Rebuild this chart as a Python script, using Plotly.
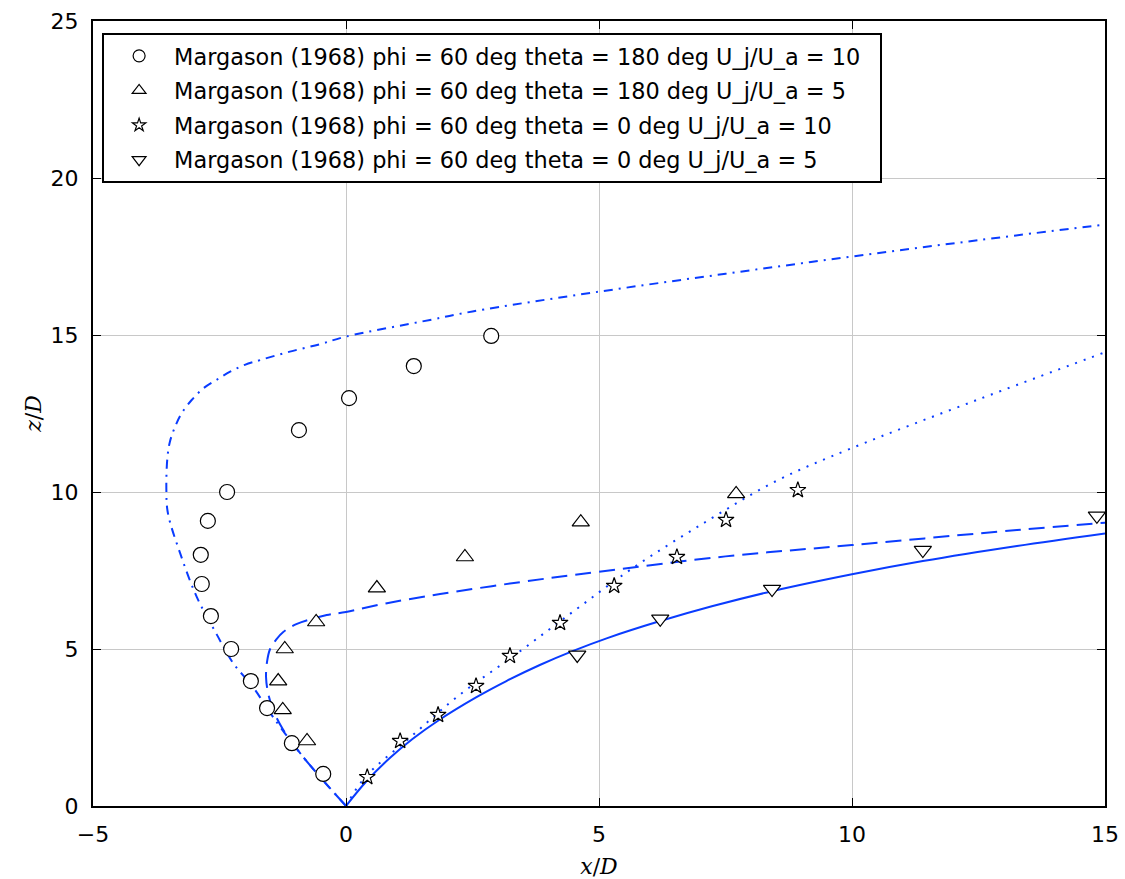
import plotly.graph_objects as go

# ---- data ----
circ_x = [-0.45, -1.07, -1.56, -1.88, -2.27, -2.67, -2.85, -2.87, -2.73, -2.35, -0.93, 0.06, 1.34, 2.87]
circ_z = [1.02, 2.0, 3.12, 3.98, 5.0, 6.05, 7.07, 8.0, 9.08, 10.0, 11.97, 12.99, 14.01, 14.97]

tri_x = [-0.77, -1.25, -1.34, -1.21, -0.59, 0.61, 2.35, 4.64, 7.71]
tri_z = [2.07, 3.06, 3.98, 5.0, 5.86, 6.94, 7.93, 9.04, 9.94]

star_x = [0.42, 1.07, 1.82, 2.57, 3.24, 4.23, 5.30, 6.54, 7.51, 8.93]
star_z = [0.92, 2.07, 2.90, 3.82, 4.78, 5.83, 7.01, 7.93, 9.11, 10.06]

tdn_x = [4.57, 6.21, 8.42, 11.40, 14.84]
tdn_z = [4.81, 5.96, 6.91, 8.15, 9.24]

# model curves
solid_x = [0, 0.40, 0.86, 1.32, 1.84, 2.57, 3.17, 3.83, 4.49, 5.15, 6.21, 7.23, 8.42, 10.0, 11.4, 13.26, 15.0]
solid_z = [0, 0.78, 1.52, 2.14, 2.74, 3.46, 3.98, 4.49, 4.94, 5.34, 5.89, 6.36, 6.84, 7.38, 7.8, 8.28, 8.68]

dash_x = [0, -0.51, -0.91, -1.25, -1.44, -1.54, -1.58, -1.56, -1.50, -1.38, -1.24, -0.97, -0.38, 0, 0.81, 1.86, 3.44, 5.0, 7.5, 10.0, 13.26, 15.0]
dash_z = [0, 0.92, 1.69, 2.45, 3.06, 3.6, 4.1, 4.6, 5.0, 5.3, 5.54, 5.8, 6.08, 6.18, 6.46, 6.75, 7.13, 7.46, 7.95, 8.31, 8.79, 9.02]

dot_x = [0, 0.38, 1.28, 2.19, 3.39, 4.53, 5.67, 7.17, 8.54, 10.0, 12.5, 15.0]
dot_z = [0, 0.92, 2.2, 3.47, 4.87, 6.24, 7.58, 9.11, 10.38, 11.4, 12.95, 14.45]

dd_x = [0, -0.51, -0.91, -1.44, -1.84, -2.23, -2.55, -2.95, -3.28, -3.52, -3.55, -3.53, -3.48, -3.38, -3.25,
        -3.05, -2.82, -2.56, -2.29, -2.0, -1.70, -1.11, -0.51, 0, 1.66, 2.5, 5.0, 7.5, 10.0, 12.5, 15.0]
dd_z = [0, 0.92, 1.69, 2.83, 3.79, 4.55, 5.45, 6.66, 8.06, 9.33, 10.06, 11.08, 11.6, 12.07, 12.5,
        12.93, 13.3, 13.57, 13.83, 14.05, 14.2, 14.47, 14.71, 14.95, 15.48, 15.75, 16.38, 16.95, 17.5, 18.02, 18.52]

labels = [
    "Margason (1968) phi = 60 deg theta = 180 deg U_j/U_a = 10",
    "Margason (1968) phi = 60 deg theta = 180 deg U_j/U_a = 5",
    "Margason (1968) phi = 60 deg theta = 0 deg U_j/U_a = 10",
    "Margason (1968) phi = 60 deg theta = 0 deg U_j/U_a = 5",
]
symbols = ["circle", "triangle-up", "star", "triangle-down"]

x_ticks = [-5, 0, 5, 10, 15]
y_ticks = [0, 5, 10, 15, 20, 25]

BLUE = "#0a3cff"

fig = go.Figure()

# lines (not in legend)
fig.add_trace(go.Scatter(x=solid_x, y=solid_z, mode="lines", line=dict(color=BLUE, width=2, shape="spline"), showlegend=False))
fig.add_trace(go.Scatter(x=dash_x, y=dash_z, mode="lines", line=dict(color=BLUE, width=2, dash="16px,8px", shape="spline"), showlegend=False))
fig.add_trace(go.Scatter(x=dot_x, y=dot_z, mode="lines", line=dict(color=BLUE, width=2, dash="2px,7px", shape="spline"), showlegend=False))
fig.add_trace(go.Scatter(x=dd_x, y=dd_z, mode="lines", line=dict(color=BLUE, width=2, dash="9px,6px,2px,6px", shape="spline"), showlegend=False))

sizes = [15, 15, 12, 15]
data = [(circ_x, circ_z), (tri_x, tri_z), (star_x, star_z), (tdn_x, tdn_z)]
for (xs, zs), sym, sz in zip(data, symbols, sizes):
    fig.add_trace(go.Scatter(x=xs, y=zs, mode="markers", showlegend=False,
                             marker=dict(symbol=sym, size=sz, color="white",
                                         line=dict(color="black", width=1.2))))

# legend entries
leg_sizes = [12, 12, 10, 12]
for i, (lab, sym, sz) in enumerate(zip(labels, symbols, leg_sizes)):
    fig.add_trace(go.Scatter(x=[None], y=[None], mode="markers", name=lab + "\u00a0\u00a0", legendgroup=f"g{i}",
                             marker=dict(symbol=sym, size=sz, color="white",
                                         line=dict(color="black", width=1.2))))

axis_common = dict(
    showgrid=True, gridcolor="#c8c8c8", gridwidth=1,
    showline=True, linecolor="black", linewidth=2, mirror="ticks",
    ticks="inside", ticklen=8, tickwidth=1, tickcolor="black",
    zeroline=False, automargin=False, ticklabelstandoff=8, ticklabeloverflow="allow",
    tickfont=dict(family="DejaVu Sans", size=22, color="black"),
)

fig.update_layout(
    width=1125, height=879,
    margin=dict(l=93, r=20, t=21, b=73, autoexpand=False),
    paper_bgcolor="white", plot_bgcolor="white",
    xaxis=dict(range=[-5, 15], tickvals=x_ticks,
               ticktext=[("\u2212" + str(-v)) if v < 0 else str(v) for v in x_ticks],
               title=dict(text="<i>x</i>/<i>D</i>", font=dict(family="DejaVu Serif", size=22, color="black"), standoff=14),
               **axis_common),
    yaxis=dict(range=[0, 25], tickvals=y_ticks,
               title=dict(text="<i>z</i>/<i>D</i>", font=dict(family="DejaVu Serif", size=22, color="black"), standoff=3),
               **axis_common),
    legend=dict(x=0.009, y=0.985, xanchor="left", yanchor="top",
                bgcolor="white", bordercolor="black", borderwidth=2,
                font=dict(family="DejaVu Sans", size=22.4, color="black"),
                itemsizing="trace", itemwidth=60, traceorder="grouped", tracegroupgap=2.5),
    showlegend=True,
)

# remove the default 8px page margin so the 1125x879 figure fills the window exactly
fig.write_html("out.html", config={"displayModeBar": False},
               post_script="document.body.style.margin='0';document.body.style.overflow='hidden';")
